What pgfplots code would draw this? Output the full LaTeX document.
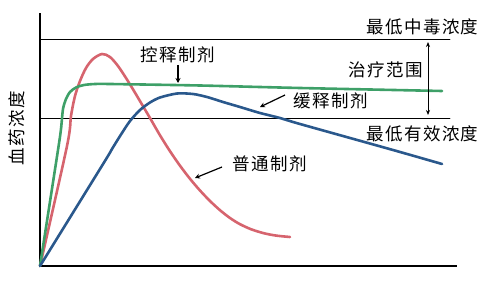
\documentclass[border=0pt]{standalone}
\usepackage{pgfplots}
\pgfplotsset{compat=1.18}
\usepackage{fontspec}
\usetikzlibrary{arrows.meta}
\newfontfamily\cjk[LetterSpace=8]{Noto Sans CJK SC}

\definecolor{conv}{RGB}{214,100,110}
\definecolor{ctrl}{RGB}{62,160,104}
\definecolor{sust}{RGB}{42,88,140}

\begin{document}
\begin{tikzpicture}
\path[use as bounding box] (-40pt,-34pt) rectangle (460pt,266pt);
\begin{axis}[
  x=1pt, y=1pt,
  anchor=origin, at={(0pt,0pt)},
  xmin=0, xmax=417, ymin=0, ymax=253,
  axis x line=bottom, axis y line=left,
  axis line style={-, line width=1.5pt, black},
  ticks=none, clip=false,
  every axis plot/.append style={line width=2.6pt, line join=round, line cap=round},
  font=\cjk\fontsize{17.5}{17.5}\selectfont,
]
% minimum toxic and minimum effective concentration
\addplot[black, line width=0.8pt] coordinates {(0,227) (410,227)};
\addplot[black, line width=0.8pt] coordinates {(0,148) (410,148)};

% conventional dosage form
\addplot[conv, smooth, tension=0.5] coordinates {
  (0,0) (27,120) (31,150) (35,170) (40,185) (46,198) (53,207) (62,212)
  (70,209) (78,200) (86,188) (94,175) (102,161.5) (110,148) (120,130.7)
  (130,114.8) (140,100.3) (150,87.2) (160,75.5) (170,65) (180,55.8)
  (190,48) (200,41.8) (212,36.4) (225,32.5) (237,30.3) (250,29)};

% controlled-release dosage form
\addplot[ctrl, smooth, tension=0.45] coordinates {
  (0,0) (18,116) (21,137) (23,157) (26,167) (30,174) (36,178.5)
  (44,181) (55,182) (70,182) (160,180.5) (260,178) (402,175)};

% sustained-release dosage form
\addplot[sust, smooth, tension=0.45] coordinates {
  (0,0) (64,103.5) (72,117) (81,131.5) (90,145) (100,156) (110,163.5)
  (120,168.5) (137,172.5) (153,172) (167,169) (183,164) (200,159)
  (220,153) (240,148) (260,142) (353,116) (402,102)};

% labels
\node at (axis cs:382.5,239.5) {最低中毒浓度};
\node at (axis cs:382.5,132.5) {最低有效浓度};
\node at (axis cs:345.5,196) {治疗范围};
\draw[black, line width=1pt, {Stealth[length=5pt,width=4pt]}-{Stealth[length=5pt,width=4pt]}]
  (axis cs:388,224) -- (axis cs:388,151);
\node at (axis cs:137.5,211.5) {控释制剂};
\draw[black, line width=1.4pt, -{Stealth[length=5pt,width=5pt]}] (axis cs:138,201) -- (axis cs:138,183);
\node at (axis cs:290.5,165) {缓释制剂};
\draw[black, line width=1.2pt, -{Stealth[length=5pt,width=5pt]}] (axis cs:245,171) -- (axis cs:220,159);
\node at (axis cs:230,102.5) {普通制剂};
\draw[black, line width=1.2pt, -{Stealth[length=5pt,width=5pt]}] (axis cs:182,99) -- (axis cs:155,88);
\node[rotate=90] at (axis cs:-23,138) {血药浓度};
\end{axis}
\end{tikzpicture}
\end{document}
